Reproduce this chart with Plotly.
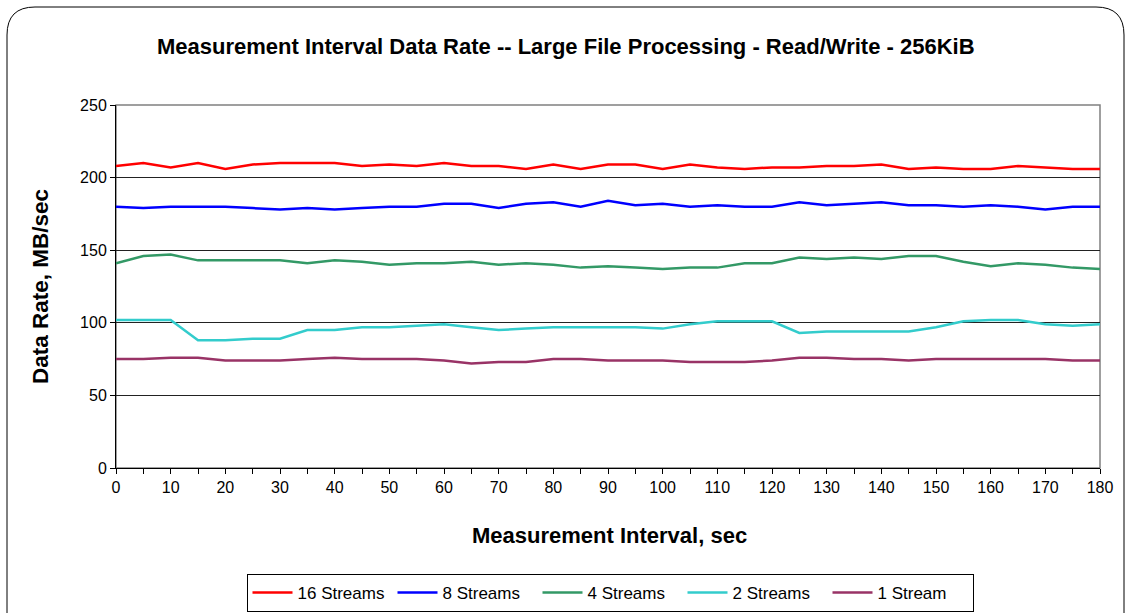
import plotly.graph_objects as go

intervals = list(range(0, 181, 5))
s16 = [208,210,207,210,206,209,210,210,210,208,209,208,210,208,208,206,209,206,209,209,206,209,207,206,207,207,208,208,209,206,207,206,206,208,207,206,206]
s8 = [180,179,180,180,180,179,178,179,178,179,180,180,182,182,179,182,183,180,184,181,182,180,181,180,180,183,181,182,183,181,181,180,181,180,178,180,180]
s4 = [141,146,147,143,143,143,143,141,143,142,140,141,141,142,140,141,140,138,139,138,137,138,138,141,141,145,144,145,144,146,146,142,139,141,140,138,137]
s2 = [102,102,102,88,88,89,89,95,95,97,97,98,99,97,95,96,97,97,97,97,96,99,101,101,101,93,94,94,94,94,97,101,102,102,99,98,99]
s1 = [75,75,76,76,74,74,74,75,76,75,75,75,74,72,73,73,75,75,74,74,74,73,73,73,74,76,76,75,75,74,75,75,75,75,75,74,74]

series_names = ["16 Streams", "8 Streams", "4 Streams", "2 Streams", "1 Stream"]
series_vals = [s16, s8, s4, s2, s1]
colors = ["#FF0000", "#0000FF", "#339966", "#33CCCC", "#993366"]

title_text = "Measurement Interval Data Rate -- Large File Processing - Read/Write - 256KiB"
x_title = "Measurement Interval, sec"
y_title = "Data Rate, MB/sec"

W, H = 1127, 613
L, R, T, B = 116, 1100, 105, 468

def px(x):
    return (x - L) / (R - L)

def py(y):
    return (B - y) / (B - T)

fig = go.Figure()
for name, vals, col in zip(series_names, series_vals, colors):
    fig.add_trace(go.Scatter(x=intervals, y=vals, name=name, mode="lines",
                             line=dict(color=col, width=2.5)))

font = "Arial, Liberation Sans, sans-serif"

# rounded outer border
x0, x1, y0, y1, r = 7, 1124, 7, 640, 28
pth = (f"M {px(x0)},{py(y0 + r)} Q {px(x0)},{py(y0)} {px(x0 + r)},{py(y0)} "
       f"L {px(x1 - r)},{py(y0)} Q {px(x1)},{py(y0)} {px(x1)},{py(y0 + r)} "
       f"L {px(x1)},{py(y1)} L {px(x0)},{py(y1)} Z")

fig.update_layout(
    width=W, height=H,
    margin=dict(l=L, r=W - R, t=T, b=H - B, autoexpand=False),
    paper_bgcolor="white", plot_bgcolor="white",
    font=dict(family=font, size=16, color="black"),
    showlegend=True,
    legend=dict(orientation="h", x=px(610), y=py(574), xanchor="center", yanchor="top",
                bordercolor="black", borderwidth=1, font=dict(size=17, family=font),
                itemwidth=40, tracegroupgap=0, entrywidth=90, entrywidthmode="pixels"),
    shapes=[
        dict(type="path", path=pth, xref="paper", yref="paper",
             line=dict(color="black", width=1), layer="below"),
        dict(type="rect", xref="paper", yref="paper", x0=0, x1=1, y0=0, y1=1,
             line=dict(color="#808080", width=1.5), layer="below"),
    ],
    annotations=[
        dict(text=f"<b>{title_text}</b>", xref="paper", yref="paper", x=px(566), y=py(47),
             showarrow=False, font=dict(size=22, family=font), xanchor="center", yanchor="middle"),
        dict(text=f"<b>{x_title}</b>", xref="paper", yref="paper", x=px(609), y=py(535),
             showarrow=False, font=dict(size=22, family=font), xanchor="center", yanchor="middle"),
        dict(text=f"<b>{y_title}</b>", xref="paper", yref="paper", x=px(40), y=py(287),
             showarrow=False, font=dict(size=22.5, family=font), textangle=-90,
             xanchor="center", yanchor="middle"),
    ],
)

fig.update_xaxes(range=[0, 180], tickmode="array", tickvals=list(range(0, 181, 10)),
                 ticks="outside", ticklen=5, tickcolor="black", showline=True,
                 linecolor="black", linewidth=1, showgrid=False, zeroline=False,
                 minor=dict(tickvals=list(range(5, 181, 10)), ticks="outside", ticklen=5,
                            tickcolor="black", showgrid=False),
                 tickfont=dict(size=16, family=font))
fig.update_yaxes(range=[0, 250], dtick=50, ticks="outside", ticklen=5, tickcolor="black",
                 showline=True, linecolor="black", linewidth=1, showgrid=True,
                 gridcolor="#222222", gridwidth=1, zeroline=False,
                 tickfont=dict(size=16, family=font))

fig.write_html("out.html", config={"displayModeBar": False},
               post_script="document.body.style.margin='0';")
